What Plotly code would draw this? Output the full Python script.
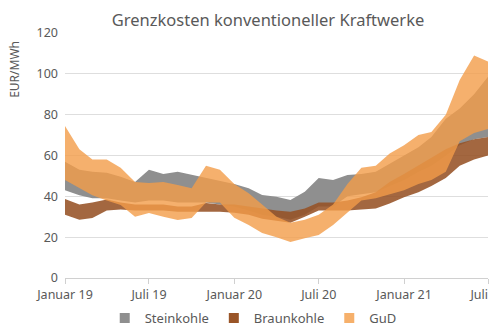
import plotly.graph_objects as go
import pandas as pd

months = pd.date_range("2019-01-01", "2021-07-01", freq="MS")

stein_lo = [43, 40.5, 39, 39, 38, 37, 38, 38, 37, 37, 37, 36, 35, 33, 31, 30, 28.5, 31, 35, 35, 40, 41, 42, 45, 48, 52, 55, 60, 65, 68, 69]
stein_hi = [57, 53, 52, 51.6, 49.6, 47, 53, 51, 52, 50.5, 49, 47.5, 46, 44, 40.7, 39.8, 38.2, 42.3, 49, 48, 50.5, 51, 52, 56, 60, 64, 69, 78, 83, 90, 98.6]
braun_lo = [31, 28.5, 29.4, 33, 33.5, 33, 33, 33, 32.5, 32.5, 32.5, 32.5, 32, 31, 29, 28, 27, 30, 33, 33, 33, 33.5, 34, 36.5, 39.5, 42, 45, 49, 55, 58, 60]
braun_hi = [38.7, 36, 37, 38.5, 37, 36, 36, 36, 35, 35, 36.7, 36, 36, 35, 34, 33, 32.5, 34, 37, 37, 38, 39.5, 42, 47, 51, 55, 59, 63, 66, 68, 69]
gud_lo = [48, 44, 40.5, 38, 35.8, 30, 31.8, 30, 28.4, 29.4, 37, 37, 29.5, 26, 22, 20, 17.6, 19.5, 21, 26, 32, 38, 39, 41, 43, 46, 48, 52, 67, 71, 73]
gud_hi = [74.5, 63, 58, 58, 54, 47, 46.5, 47, 45.5, 44, 55, 53, 46, 41.5, 36, 30, 27, 28.5, 31, 36, 46, 54, 55, 61, 65, 70, 71.5, 80, 97, 109, 106]

series_names = ["Steinkohle", "Braunkohle", "GuD"]
tick_vals = ["2019-01-01", "2019-07-01", "2020-01-01", "2020-07-01", "2021-01-01", "2021-07-01"]
tick_text = ["Januar 19", "Juli 19", "Januar 20", "Juli 20", "Januar 21", "Juli 21"]
y_ticks = [0, 20, 40, 60, 80, 100, 120]

fills = ["rgba(143,143,143,1)", "rgba(150,82,38,0.88)", "rgba(243,156,72,0.8)"]
legend_cols = ["#8f8f8f", "#9a5528", "#f6b06b"]
bands = [(stein_lo, stein_hi), (braun_lo, braun_hi), (gud_lo, gud_hi)]

fig = go.Figure()
for name, (lo, hi), fc in zip(series_names, bands, fills):
    fig.add_trace(go.Scatter(x=months, y=lo, mode="lines", line=dict(width=0),
                             showlegend=False, hoverinfo="skip"))
    fig.add_trace(go.Scatter(x=months, y=hi, mode="lines", line=dict(width=0),
                             fill="tonexty", fillcolor=fc, showlegend=False, name=name))
for name, c in zip(series_names, legend_cols):
    fig.add_trace(go.Scatter(x=[None], y=[None], mode="markers", name=name,
                             marker=dict(symbol="square", size=10, color=c)))

font_fam = "Noto Sans, Open Sans, sans-serif"
fig.update_layout(
    width=500, height=330,
    margin=dict(l=65, r=12, t=33, b=52, autoexpand=False),
    paper_bgcolor="white", plot_bgcolor="white",
    font=dict(family=font_fam, color="#595959", size=12),
    title=dict(text="Grenzkosten konventioneller Kraftwerke", x=0.536, xanchor="center",
               y=0.94, yanchor="middle", font=dict(size=16.5, color="#595959")),
    showlegend=True,
    legend=dict(orientation="h", x=0.445, xanchor="center", yref="container", y=0.036,
                yanchor="middle", traceorder="normal",
                font=dict(size=13, color="#595959"), itemwidth=30, tracegroupgap=0),
    xaxis=dict(range=[months[0], months[-1]], tickvals=tick_vals, ticktext=tick_text,
               showgrid=False, showline=True, linecolor="#d0d0d0", linewidth=1,
               ticks="outside", ticklen=5, tickcolor="#d0d0d0", ticklabeloverflow="allow",
               tickfont=dict(size=12.5, color="#595959")),
    yaxis=dict(range=[0, 120], tickvals=y_ticks, showgrid=True, gridcolor="#dedede",
               gridwidth=1, zeroline=False, showline=False, ticks="",
               tickfont=dict(size=12.5, color="#595959"), ticklabelstandoff=6),
    annotations=[dict(text="EUR/MWh", xref="paper", yref="paper", x=-0.118, y=0.85,
                      xanchor="center", yanchor="middle", textangle=-90, showarrow=False,
                      font=dict(size=12, color="#595959"))],
    shapes=[dict(type="rect", xref="paper", yref="paper", x0=1.007, x1=1.2, y0=-0.04, y1=-0.15,
                 fillcolor="white", line=dict(width=0), layer="above")],
)
fig.write_html("out.html")
